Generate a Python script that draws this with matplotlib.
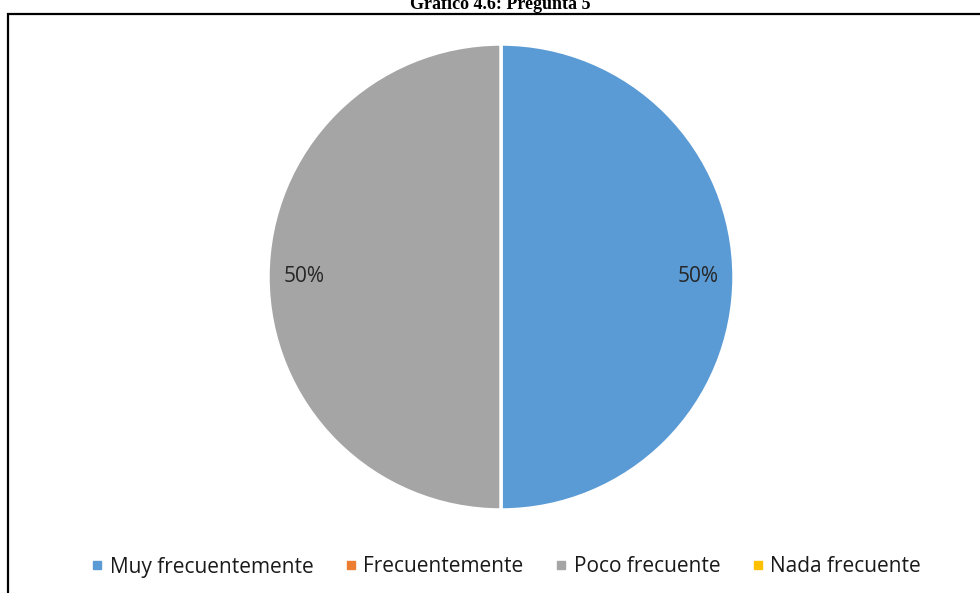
import matplotlib.pyplot as plt
from matplotlib.lines import Line2D
from matplotlib.patches import Rectangle

# data
categories = ['Muy frecuentemente', 'Frecuentemente', 'Poco frecuente', 'Nada frecuente']
values = [50, 0, 50, 0]
colors = ['#5B9BD5', '#ED7D31', '#A5A5A5', '#FFC000']

W, H = 980, 593
fig = plt.figure(figsize=(W / 100, H / 100), dpi=100)

# frame of the chart area (cut at right and bottom)
fig.patches.append(Rectangle((8 / W, -0.1), 1.2, (H - 14) / H + 0.1, transform=fig.transFigure,
                             fill=False, edgecolor='black', linewidth=1.6, clip_on=False))

fig.text(500 / W, 1 - 9 / H, 'Gráfico 4.6: Pregunta 5', ha='center', va='baseline',
         family='Liberation Serif', fontweight='bold', fontsize=13)

cx, cy, r = 501, 277, 233
ax = fig.add_axes([(cx - r) / W, (H - cy - r) / H, 2 * r / W, 2 * r / H])
shown = [(v, c) for v, c in zip(values, colors) if v > 0]
wedges, texts, autotexts = ax.pie([v for v, c in shown], colors=[c for v, c in shown],
                                  startangle=90, counterclock=False, radius=1,
                                  autopct='%1.0f%%', pctdistance=0.845,
                                  wedgeprops=dict(edgecolor='white', linewidth=2.5))
for t in autotexts:
    t.set_fontsize(15)
    t.set_family('Open Sans')
    t.set_color('#262626')
ax.set_xlim(-1, 1)
ax.set_ylim(-1, 1)
ax.set_aspect('equal')
ax.axis('off')

handles = [Line2D([], [], marker='s', linestyle='none', markersize=5.5, color=c) for c in colors]
fig.legend(handles, categories, loc='center', bbox_to_anchor=(506 / W, 26 / H), ncol=4,
           frameon=False, handlelength=0.6, handletextpad=0.3, columnspacing=1.5,
           borderpad=0, borderaxespad=0, labelcolor='#1a1a1a',
           prop=dict(family='Open Sans', size=15))

fig.savefig('out.png', dpi=100)
